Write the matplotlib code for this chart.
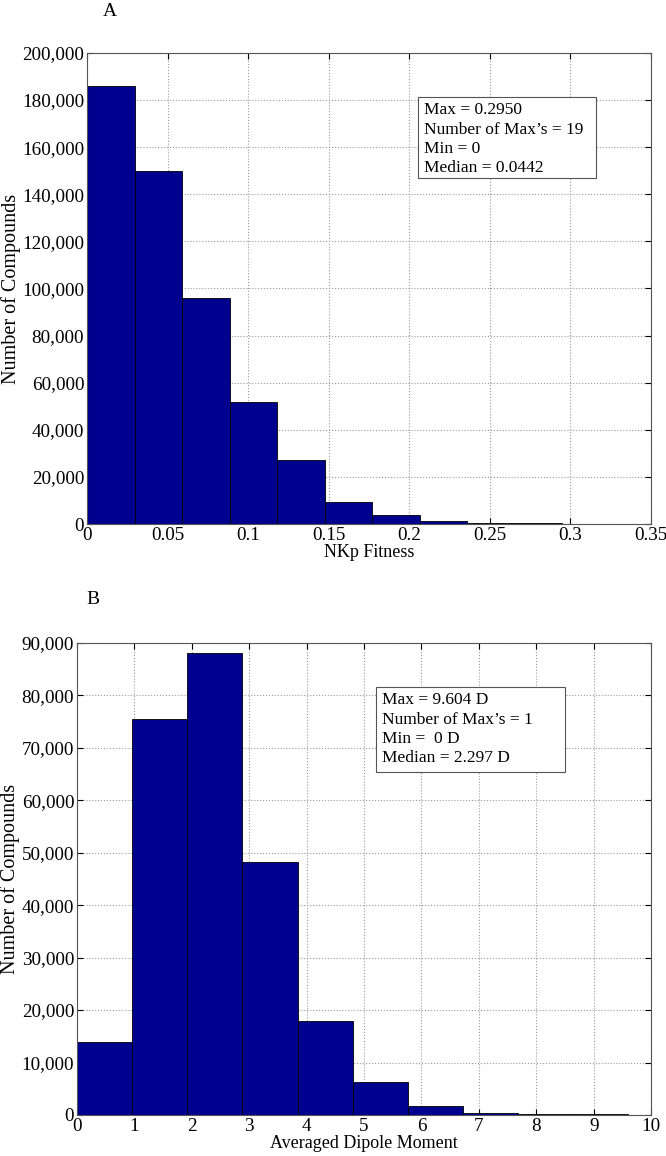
import matplotlib
matplotlib.use('Agg')

import matplotlib.pyplot as plt
import numpy as np
from matplotlib.ticker import FuncFormatter

# panel A: NKp fitness histogram (10 bins, 0 .. 0.295)
fit_edges = np.linspace(0, 0.295, 11)
fit_counts = [186000, 150000, 96000, 52000, 27000, 9300, 3800, 1300, 500, 400]
fit_stats = ["Max = 0.2950", "Number of Max\u2019s = 19", "Min = 0", "Median = 0.0442"]

# panel B: averaged dipole moment (10 bins, 0 .. 9.604)
dip_edges = np.linspace(0, 9.604, 11)
dip_counts = [14000, 75500, 88000, 48300, 18000, 6200, 1700, 450, 200, 150]
dip_stats = ["Max = 9.604 D", "Number of Max\u2019s = 1", "Min =  0 D", "Median = 2.297 D"]

plt.rcParams['font.family'] = ['Liberation Serif', 'DejaVu Serif']
plt.rcParams['font.size'] = 13.8

bar_color = (0, 0, 0.56)
comma = FuncFormatter(lambda v, p: f"{int(v):,}")


def histPanel(ax, edges, counts, xlim, xticks, ymax, ystep, xlabel):
    ax.bar(edges[:-1], counts, width=np.diff(edges), align='edge',
           color=bar_color, edgecolor='black', linewidth=0.6, zorder=2)
    ax.set_xlim(*xlim)
    ax.set_ylim(0, ymax)
    ax.set_xticks(xticks)
    ax.set_yticks(np.arange(0, ymax + 1, ystep))
    ax.yaxis.set_major_formatter(comma)
    ax.xaxis.set_major_formatter(FuncFormatter(lambda v, p: f"{v:g}"))
    ax.grid(True, linestyle=':', color='#999999', linewidth=0.8, zorder=0)
    ax.set_axisbelow(True)
    ax.tick_params(direction='in', top=True, right=True, length=4, pad=2)
    for s in ax.spines.values():
        s.set_color('#555555')
        s.set_linewidth(0.8)
    ax.set_xlabel(xlabel, labelpad=0, fontsize=13)
    ax.set_ylabel("Number of Compounds", labelpad=1, fontsize=14.5)


def statBox(x0, y0, x1, y1, lines):
    # box in figure pixels (top-left origin)
    W, H = 666, 1156
    rect = plt.Rectangle((x0 / W, 1 - y1 / H), (x1 - x0) / W, (y1 - y0) / H,
                         transform=fig.transFigure, facecolor='white',
                         edgecolor='#555555', linewidth=0.8, zorder=5)
    fig.patches.append(rect)
    for i, t in enumerate(lines):
        fig.text((x0 + 6) / W, 1 - (y0 + 13 + i * 19.5) / H, t,
                 va='center', ha='left', fontsize=12.5, zorder=6)


fig = plt.figure(figsize=(6.66, 11.56), dpi=100)
axA = fig.add_axes([0.1306, 0.5467, 0.847, 0.4075])
axB = fig.add_axes([0.1156, 0.0355, 0.862, 0.4083])

histPanel(axA, fit_edges, fit_counts, (0, 0.35), np.arange(0, 0.351, 0.05),
          200000, 20000, "NKp Fitness")
histPanel(axB, dip_edges, dip_counts, (0, 10), np.arange(0, 11, 1),
          90000, 10000, "Averaged Dipole Moment")

statBox(418, 97, 596, 178, fit_stats)
statBox(376, 687, 565, 772, dip_stats)

fig.text(110 / 666, 1 - 12 / 1156, "A", ha='center', va='center', fontsize=14)
fig.text(93 / 666, 1 - 600 / 1156, "B", ha='center', va='center', fontsize=14)

fig.savefig("out.png", dpi=100)
